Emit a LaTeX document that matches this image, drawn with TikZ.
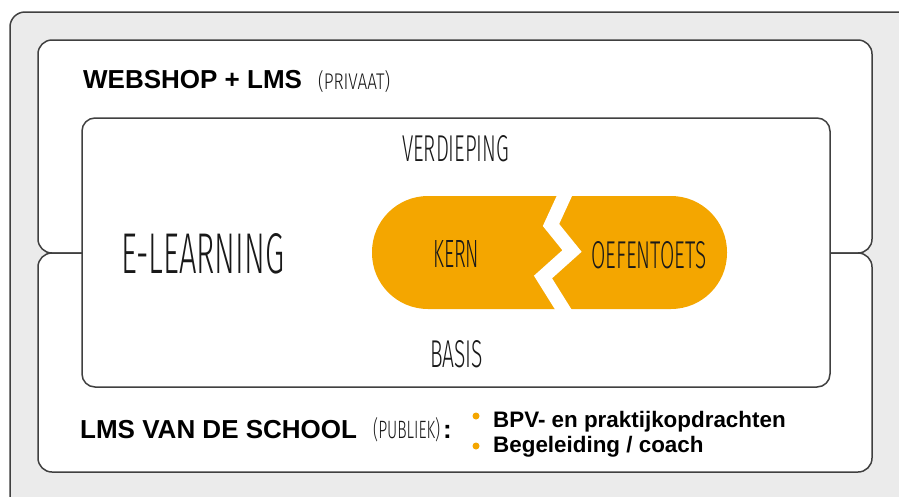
\documentclass[tikz,border=0pt]{standalone}
\usepackage{fontspec}
\setmainfont{Liberation Sans}
\IfFontExistsTF{Fira Sans Book}{\newfontfamily\handfont{Fira Sans Book}}{%
  \IfFontExistsTF{Fira Sans Light}{\newfontfamily\handfont{Fira Sans Light}}{\newfontfamily\handfont{Liberation Sans}}}
\usepackage{graphicx}
\definecolor{bggrey}{RGB}{235,235,235}
\definecolor{edge}{RGB}{64,64,64}
\definecolor{pillc}{RGB}{244,166,0}
\newcommand{\hw}[3]{\resizebox{#1pt}{#2pt}{\handfont #3}}
\tikzset{
  box/.style={draw=edge, line width=1.5pt, fill=white},
  boldlbl/.style={inner sep=0, anchor=base west, font=\fontsize{26}{30}\selectfont\bfseries, text=black},
  hand/.style={inner sep=0, anchor=base west, text=black!90},
  itemlbl/.style={inner sep=0, anchor=base west, font=\fontsize{22.4}{26}\selectfont\bfseries, text=black},
  bulletdot/.style={circle, fill=pillc, inner sep=0, minimum size=7pt},
}
\begin{document}
\begin{tikzpicture}[x=1pt,y=-1pt]
\useasboundingbox (0,0) rectangle (899,496);
\clip (0,0) rectangle (899,496);
\fill[white] (0,0) rectangle (899,496);
% outer grey frame
\draw[draw=edge, line width=1.5pt, fill=bggrey, rounded corners=15] (10,12) rectangle (940,540);
% upper and lower boxes
\draw[box, rounded corners=14] (38,40) rectangle (872,253);
\draw[box, rounded corners=14] (38,253) rectangle (872,472);
% inner e-learning box
\draw[box, rounded corners=13] (82,118) rectangle (830,387);
% pill
\fill[pillc, rounded corners=56] (372,196) rectangle (727,309);
% crack
\draw[white, line width=14pt, line join=miter, miter limit=10] (568,188) -- (551,225) -- (572,251) -- (543,277) -- (568,317);
% texts
\node[boldlbl] (webshop) at (83,88.5) {WEBSHOP + LMS};
\node[hand] (privaat) at (318,89) {\hw{72}{19}{(PRIVAAT)}};
\node[hand] (verdieping) at (402,161) {\hw{107}{26}{VERDIEPING}};
\node[hand] (elearning) at (121,273) {\hw{163}{40}{E-LEARNING}};
\node[hand] (kern) at (433,267) {\hw{46}{27}{KERN}};
\node[hand] (oefentoets) at (591,268) {\hw{115}{27}{OEFENTOETS}};
\node[hand] (basis) at (430,367) {\hw{53}{27}{BASIS}};
\node[boldlbl] (lms) at (80,438) {LMS VAN DE SCHOOL};
\node[hand] (publiek) at (373,438) {\hw{67}{21}{(PUBLIEK)}};
\node[boldlbl] (colon) at (443,438) {:};
\node[bulletdot] (dot1) at (476,416) {};
\node[bulletdot] (dot2) at (476,446) {};
\node[itemlbl] (item1) at (493,427) {BPV- en praktijkopdrachten};
\node[itemlbl] (item2) at (493,452) {Begeleiding / coach};
\end{tikzpicture}
\end{document}
